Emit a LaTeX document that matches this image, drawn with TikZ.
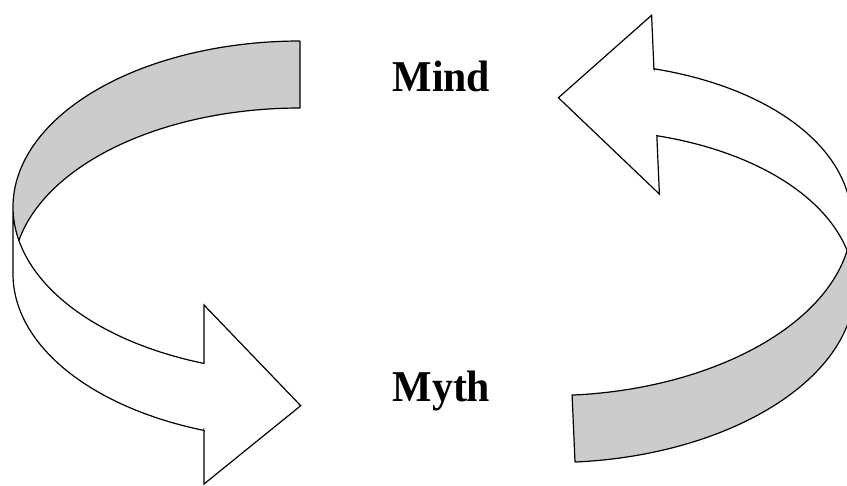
\documentclass[tikz,border=0pt]{standalone}
\usepackage{fontspec}
\setmainfont{Liberation Serif}
\usepackage{graphicx}
\definecolor{bandgray}{RGB}{204,204,204}
\tikzset{
  outline/.style={draw=black, line width=0.9pt, line join=miter},
  lbl/.style={anchor=base, inner sep=0pt, font=\bfseries\fontsize{33}{38}\selectfont}
}
\newcommand\ribbonshape{%
    \path[fill=white] (300,41)
      -- plot[domain=90:180,samples=60] ({300+287*cos(\x)},{207-166*sin(\x)})
      -- (13,274)
      -- plot[domain=180:250.46,samples=60] ({300+287*cos(\x)},{274-166*sin(\x)})
      -- (204,484) -- (300.7,405.7) -- (204,305) -- (204,363.4)
      -- plot[domain=250.46:191.643,samples=60] ({300+287*cos(\x)},{207-166*sin(\x)})
      -- plot[domain=168.357:90,samples=60] ({300+287*cos(\x)},{274-166*sin(\x)})
      -- cycle;
    \path[fill=bandgray]
      plot[domain=90:191.643,samples=80] ({300+287*cos(\x)},{207-166*sin(\x)})
      -- plot[domain=168.357:90,samples=80] ({300+287*cos(\x)},{274-166*sin(\x)})
      -- cycle;
    \draw[outline]
      plot[domain=90:250.46,samples=140] ({300+287*cos(\x)},{207-166*sin(\x)})
      -- (204,305) -- (300.7,405.7) -- (204,484) -- (204,430.4)
      -- plot[domain=250.46:180,samples=60] ({300+287*cos(\x)},{274-166*sin(\x)})
      -- (13,207);
    \draw[outline]
      plot[domain=168.357:90,samples=80] ({300+287*cos(\x)},{274-166*sin(\x)})
      -- (300,41);
}
\begin{document}
\begin{tikzpicture}[x=0.75pt,y=-0.75pt]
  \useasboundingbox (0,0) rectangle (847,486);
  \clip (0,0) rectangle (847,486);
  \begin{scope}
    \ribbonshape
  \end{scope}
  \begin{scope}[shift={(876.5,489.9)}, rotate=182.5]
    \ribbonshape
  \end{scope}
  \node[lbl] (mind) at (441.4,91.7) {\scalebox{0.95}[1]{Mind}};
  \node[lbl] (myth) at (441.4,401.7) {\scalebox{0.95}[1]{Myth}};
\end{tikzpicture}
\end{document}
